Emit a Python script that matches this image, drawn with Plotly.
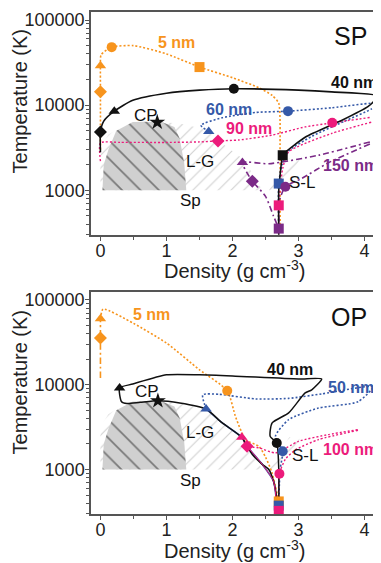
import numpy as np
import plotly.graph_objects as go

# ---------------- shared phase-diagram regions (density g/cm3, T in K) ----------------
binodal_x = [0.0, 0.0, 0.03, 0.12, 0.3, 0.55, 0.86, 1.2, 1.6, 1.84, 2.14, 2.3, 2.45, 0.0]
binodal_T = [1000, 2500, 3500, 4500, 5500, 6200, 6400, 6100, 5170, 3570, 2400, 1600, 1000, 1000]
spinodal_x = [0.03, 0.05, 0.12, 0.24, 0.49, 0.7, 0.94, 1.12, 1.2, 1.27, 1.3, 0.03]
spinodal_T = [1000, 2000, 3000, 5000, 6350, 6400, 6300, 5550, 4060, 2050, 1000, 1000]
sl_x = [2.55, 2.72, 3.02, 2.86, 2.55]
sl_T = [1000, 1000, 2300, 2400, 1000]

# ---------------- SP panel trajectories ----------------
sp_orange_x = [0, 0, 0, 0.01, 0.17, 0.5, 1.0, 1.5, 2.0, 2.4, 2.6, 2.7, 2.72, 2.72]
sp_orange_T = [3000, 14400, 29000, 39000, 48000, 50000, 40000, 28000, 21000, 16000, 13000, 10500, 3000, 300]
sp_black_x = [0, 0, 0.05, 0.21, 0.49, 1.0, 1.5, 2.02, 3.0, 3.5, 4.19, 4.15, 4.05, 3.65, 3.1, 2.8, 2.76, 2.72, 2.7, 2.7]
sp_black_T = [2800, 4850, 6500, 8500, 11400, 13800, 15000, 15600, 15000, 14300, 12900, 11400, 9600, 6600, 4200, 2800, 2580, 1500, 1000, 300]
sp_blue_x = [1.64, 1.52, 1.84, 2.35, 2.84, 3.5, 4.19, 4.1, 3.7, 3.2, 2.85, 2.75, 2.7, 2.7]
sp_blue_T = [4900, 5800, 7100, 8200, 8500, 9300, 10500, 9000, 6500, 4300, 2900, 2000, 1200, 300]
sp_pink_x = [0, 0, 0.3, 1.0, 1.5, 1.78, 2.1, 2.6, 3.1, 3.51, 4.1]
sp_pink_T = [2200, 3600, 3650, 3650, 3700, 3800, 3900, 4450, 5550, 6200, 7200]
sp_pink2_x = [4.1, 3.5, 2.85, 2.76, 2.7, 2.7]
sp_pink2_T = [6300, 4650, 2830, 1800, 665, 300]
sp_purple_x = [4.08, 3.3, 2.55, 2.15, 2.22, 2.30, 2.5, 2.62, 2.7]
sp_purple_T = [3700, 2580, 2050, 2120, 1600, 1280, 850, 500, 355]
sp_purple2_x = [4.08, 3.45, 3.05, 2.8, 2.72, 2.7]
sp_purple2_T = [3500, 2100, 1380, 1100, 800, 355]

# markers: (x, T, symbol)
sp_orange_mk = ([0, 0, 0.17, 1.5], [14400, 29000, 48000, 28000], ["diamond", "triangle-up", "circle", "square"])
sp_black_mk = ([0, 0.21, 2.02, 2.76], [4850, 8500, 15600, 2580], ["diamond", "triangle-up", "circle", "square"])
sp_blue_mk = ([1.64, 2.84, 2.7], [4900, 8500, 1200], ["triangle-up", "circle", "square"])
sp_pink_mk = ([1.78, 3.51, 2.7], [3800, 6200, 665], ["diamond", "circle", "square"])
sp_purple_mk = ([2.15, 2.30, 2.80, 2.7], [2120, 1280, 1100, 355], ["triangle-up", "diamond", "circle", "square"])
sp_cp = (0.86, 6300)

# ---------------- OP panel trajectories ----------------
op_orange_v_x = [0, 0, 0]
op_orange_v_T = [12000, 35500, 60000]
op_orange_x = [0, 0.04, 0.5, 1.0, 1.5, 1.92, 2.05, 2.2, 2.4, 2.5, 2.6, 2.7]
op_orange_T = [60000, 78000, 53000, 31000, 15000, 8500, 4100, 2250, 1870, 1400, 910, 420]
op_black_x = [2.68, 2.67, 2.62, 2.55, 2.45, 2.3, 2.22, 2.14, 1.84, 1.6, 1.2, 0.87, 0.6, 0.4, 0.32, 0.29, 0.49, 1.0, 1.5, 2.0, 3.0, 3.35,
              3.2, 3.1, 2.85, 2.6, 2.57, 2.67, 2.7, 2.7]
op_black_T = [300, 450, 730, 1000, 1150, 1500, 1880, 2400, 3570, 5170, 6100, 6460, 6200, 6000, 6300, 9150, 10200, 13100, 13100, 12700,
              11700, 11700, 8700, 8000, 4650, 3540, 2460, 2050, 1000, 300]
op_blue_x = [1.6, 1.55, 1.8, 2.35, 2.85, 3.35, 4.13, 3.9, 3.3, 2.85, 2.65, 2.76, 2.72, 2.7]
op_blue_T = [5170, 7600, 7700, 6800, 6900, 7800, 9500, 6300, 5300, 3870, 2460, 1640, 1000, 380]
op_blue2_x = [1.6, 1.84, 2.14, 2.22, 2.45, 2.62, 2.68]
op_blue2_T = [5170, 3570, 2400, 1880, 1150, 730, 300]
op_pink_x = [2.14, 2.22, 2.4, 2.65, 3.0, 3.45, 3.9]
op_pink_T = [2400, 1880, 1800, 1570, 2150, 2580, 2950]
op_pink2_x = [3.9, 3.3, 2.95, 2.8, 2.71, 2.7]
op_pink2_T = [2900, 2250, 1700, 1320, 890, 325]
op_pink3_x = [2.22, 2.45, 2.62, 2.68]
op_pink3_T = [1880, 1150, 730, 300]

op_orange_mk = ([0, 0, 1.92, 2.7], [35500, 60000, 8500, 420], ["diamond", "triangle-up", "circle", "square"])
op_black_mk = ([0.29, 2.67], [9150, 2050], ["triangle-up", "circle"])
op_blue_mk = ([1.6, 2.76, 2.7], [5170, 1640, 375], ["triangle-up", "circle", "square"])
op_pink_mk = ([2.14, 2.22, 2.71, 2.7], [2400, 1880, 890, 325], ["triangle-up", "diamond", "circle", "square"])
op_cp = (0.87, 6460)

# ---------------- labels ----------------
sp_labels = [("5 nm", 1.15, 54000, "orange", True), ("40 nm", 3.84, 18700, "black", True),
             ("60 nm", 1.95, 9000, "blue", True), ("90 nm", 2.25, 5350, "pink", True),
             ("150 nm", 3.78, 1960, "purple", True), ("CP", 0.69, 7600, "black", False),
             ("L-G", 1.51, 2150, "black", False), ("Sp", 1.36, 750, "black", False),
             ("S-L", 3.05, 1230, "black", False)]
op_labels = [("5 nm", 0.77, 68000, "orange", True), ("40 nm", 2.875, 15300, "black", True),
             ("50 nm", 3.8, 9400, "blue", True), ("100 nm", 3.78, 1720, "pink", True),
             ("CP", 0.70, 8360, "black", False), ("L-G", 1.51, 2750, "black", False),
             ("Sp", 1.36, 750, "black", False), ("S-L", 3.09, 1460, "black", False)]

COL = {"orange": "#F7941D", "black": "#111111", "blue": "#3559A8", "pink": "#EC1B7B", "purple": "#7B2A87"}
FONT = "Arial, Liberation Sans, sans-serif"

fig = go.Figure()


def add_regions(xa, ya):
    fig.add_trace(go.Scatter(x=binodal_x, y=binodal_T, fill="toself", mode="lines", line=dict(width=0),
                             fillcolor="rgba(0,0,0,0)",
                             fillpattern=dict(shape="/", fgcolor="#a0a0a0", bgcolor="rgba(255,255,255,0)", size=9, solidity=0.12),
                             xaxis=xa, yaxis=ya, hoverinfo="skip", showlegend=False))
    fig.add_trace(go.Scatter(x=sl_x, y=sl_T, fill="toself", mode="lines", line=dict(width=0),
                             fillcolor="rgba(0,0,0,0)",
                             fillpattern=dict(shape="/", fgcolor="#a0a0a0", bgcolor="rgba(255,255,255,0)", size=9, solidity=0.12),
                             xaxis=xa, yaxis=ya, hoverinfo="skip", showlegend=False))
    fig.add_trace(go.Scatter(x=spinodal_x, y=spinodal_T, fill="toself", mode="lines", line=dict(width=0),
                             fillcolor="#d0d0d0",
                             fillpattern=dict(shape="\\", fgcolor="#1e1e1e", bgcolor="#d0d0d0", size=13, solidity=0.13),
                             xaxis=xa, yaxis=ya, hoverinfo="skip", showlegend=False))


def add_line(x, T, color, dash, width, xa, ya):
    fig.add_trace(go.Scatter(x=x, y=T, mode="lines", line=dict(color=COL[color], dash=dash, width=width, shape="spline", smoothing=0.6),
                             xaxis=xa, yaxis=ya, hoverinfo="skip", showlegend=False))


def add_markers(mk, color, xa, ya):
    xs, ts, syms = mk
    fig.add_trace(go.Scatter(x=xs, y=ts, mode="markers",
                             marker=dict(color=COL[color], symbol=syms, size=10, line=dict(width=0)),
                             xaxis=xa, yaxis=ya, hoverinfo="skip", showlegend=False))


DOT = "2px,2px"
DASHDOT = "6px,3px,2px,3px"

# SP panel (top)
add_regions("x", "y")
add_line(sp_orange_x, sp_orange_T, "orange", DOT, 1.6, "x", "y")
add_line(sp_blue_x, sp_blue_T, "blue", DOT, 1.6, "x", "y")
add_line(sp_pink_x, sp_pink_T, "pink", DOT, 1.4, "x", "y")
add_line(sp_pink2_x, sp_pink2_T, "pink", DOT, 1.4, "x", "y")
add_line(sp_purple_x, sp_purple_T, "purple", DASHDOT, 1.6, "x", "y")
add_line(sp_purple2_x, sp_purple2_T, "purple", DASHDOT, 1.6, "x", "y")
add_line(sp_black_x, sp_black_T, "black", "solid", 1.6, "x", "y")
add_markers(sp_orange_mk, "orange", "x", "y")
add_markers(sp_black_mk, "black", "x", "y")
add_markers(sp_blue_mk, "blue", "x", "y")
add_markers(sp_pink_mk, "pink", "x", "y")
add_markers(sp_purple_mk, "purple", "x", "y")
fig.add_trace(go.Scatter(x=[sp_cp[0]], y=[sp_cp[1]], mode="markers", marker=dict(symbol="star", size=12, color="#111"),
                         xaxis="x", yaxis="y", hoverinfo="skip", showlegend=False))

# OP panel (bottom)
add_regions("x2", "y2")
add_line(op_orange_v_x, op_orange_v_T, "orange", DASHDOT, 1.6, "x2", "y2")
add_line(op_orange_x, op_orange_T, "orange", DOT, 1.6, "x2", "y2")
add_line(op_blue_x, op_blue_T, "blue", DOT, 1.6, "x2", "y2")
add_line(op_blue2_x, op_blue2_T, "blue", "solid", 1.6, "x2", "y2")
add_line(op_pink_x, op_pink_T, "pink", DOT, 1.4, "x2", "y2")
add_line(op_pink2_x, op_pink2_T, "pink", DOT, 1.4, "x2", "y2")
add_line(op_black_x, op_black_T, "black", "solid", 1.5, "x2", "y2")
add_line(op_pink3_x, op_pink3_T, "pink", "solid", 1.0, "x2", "y2")
add_markers(op_orange_mk, "orange", "x2", "y2")
add_markers(op_black_mk, "black", "x2", "y2")
add_markers(op_blue_mk, "blue", "x2", "y2")
add_markers(op_pink_mk, "pink", "x2", "y2")
fig.add_trace(go.Scatter(x=[op_cp[0]], y=[op_cp[1]], mode="markers", marker=dict(symbol="star", size=12, color="#111"),
                         xaxis="x2", yaxis="y2", hoverinfo="skip", showlegend=False))

# axes
x_ticks = [0, 1, 2, 3, 4]
x_minor = [0.5, 1.5, 2.5, 3.5]
y_ticks = [1000, 10000, 100000]
y_ticktext = ["1000", "10000", "100000"]
y_minor = [m * 10 ** e for e in (2, 3, 4) for m in range(2, 10) if 300 <= m * 10 ** e <= 120000 and m * 10 ** e not in y_ticks]

axis_common = dict(showline=True, linecolor="#555", linewidth=1.5, mirror=True, ticks="outside", ticklen=4,
                   tickwidth=1.2, tickcolor="#555", showgrid=False, zeroline=False,
                   tickfont=dict(family=FONT, size=18, color="#222"))
xr = [-0.143, 4.203]
yr = [2.475, 5.094]
top_dom = [(514 - 235) / 502, 1.0]
bot_dom = [0.0, (514 - 292) / 502]

# page body adds an 8px offset; figure is sized to compensate
fig.update_layout(
    width=373, height=555, margin=dict(l=83, r=1, t=4, b=49),
    paper_bgcolor="white", plot_bgcolor="white",
    xaxis=dict(domain=[0, 1], anchor="y", range=xr, tickvals=x_ticks, ticklabelstandoff=-5,
               minor=dict(tickvals=x_minor, ticks="outside", ticklen=3, tickcolor="#555"), **axis_common),
    yaxis=dict(domain=top_dom, anchor="x", type="log", range=yr, tickvals=y_ticks, ticktext=y_ticktext,
               ticklabelstandoff=-3,
               minor=dict(tickvals=y_minor, ticks="outside", ticklen=3, tickcolor="#555"), **axis_common),
    xaxis2=dict(domain=[0, 1], anchor="y2", range=xr, tickvals=x_ticks, ticklabelstandoff=-5,
                minor=dict(tickvals=x_minor, ticks="outside", ticklen=3, tickcolor="#555"), **axis_common),
    yaxis2=dict(domain=bot_dom, anchor="x2", type="log", range=yr, tickvals=y_ticks, ticktext=y_ticktext,
                ticklabelstandoff=-3,
                minor=dict(tickvals=y_minor, ticks="outside", ticklen=3, tickcolor="#555"), **axis_common),
)

ann = []
for (labels, xr_, yr_) in ((sp_labels, "x", "y"), (op_labels, "x2", "y2")):
    for text, lx, lT, col, bold in labels:
        ann.append(dict(text=f"<b>{text}</b>" if bold else text, x=lx, y=np.log10(lT), xref=xr_, yref=yr_,
                        xanchor="center", yanchor="middle",
                        showarrow=False, font=dict(family=FONT, size=16 if bold else 17, color=COL[col])))
ann.append(dict(text="SP", x=3.78, y=np.log10(65000), xref="x", yref="y", showarrow=False,
                xanchor="center", yanchor="middle", font=dict(family=FONT, size=25, color="#111")))
ann.append(dict(text="OP", x=3.76, y=np.log10(63000), xref="x2", yref="y2", showarrow=False,
                xanchor="center", yanchor="middle", font=dict(family=FONT, size=25, color="#111")))
# axis titles (positions in reference pixels, converted to paper fractions of the plot area)
for cy in (101, 382):
    ann.append(dict(text="Temperature (K)", x=(20 - 91) / 289, y=(514 - cy) / 502, xref="paper", yref="paper",
                    xanchor="center", yanchor="middle",
                    textangle=-90, showarrow=False, font=dict(family=FONT, size=20, color="#222")))
for cy in (269, 549):
    ann.append(dict(text="Density (g cm<sup>-3</sup>)", x=(236 - 91) / 289, y=(514 - cy) / 502, xref="paper",
                    yref="paper", xanchor="center", yanchor="middle",
                    showarrow=False, font=dict(family=FONT, size=20, color="#222")))
fig.update_layout(annotations=ann)

fig.write_html("out.html")
